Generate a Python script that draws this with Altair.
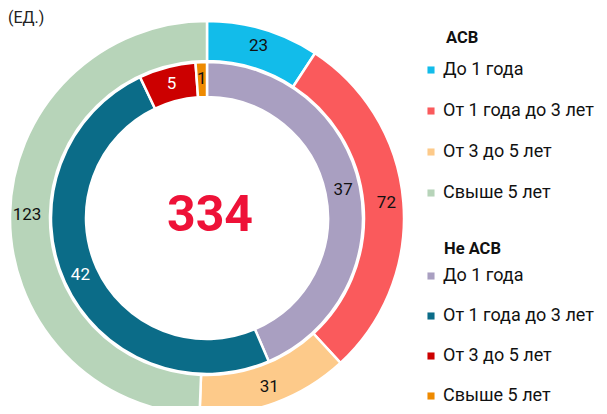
import altair as alt
import pandas as pd

categories = ["До 1 года", "От 1 года до 3 лет", "От 3 до 5 лет", "Свыше 5 лет"]
asv_values = [23, 72, 31, 123]
non_asv_values = [37, 42, 5, 1]
asv_colors = ["#12BCEA", "#FA5A5C", "#FDCA8A", "#B7D4B9"]
non_asv_colors = ["#A99FC1", "#0B6C88", "#CC0000", "#EE8A00"]
unit_label = "(ЕД.)"
legend_titles = ["АСВ", "Не АСВ"]

outer_df = pd.DataFrame({"cat": categories, "value": asv_values, "idx": range(4)})
inner_df = pd.DataFrame({"cat": categories, "value": non_asv_values, "idx": range(4)})
total = sum(asv_values) + sum(non_asv_values)

FONT = "Roboto"
CX, CY = 199, 210
LEG_X = 414

def ring(df, colors, r_in, r_out, r_label, white_cats, legend_y, row_pad):
    base = alt.Chart(df).encode(
        theta=alt.Theta("value:Q", stack=True),
        order=alt.Order("idx:O"),
        x=alt.value(CX), y=alt.value(CY),
    )
    arc = base.mark_arc(innerRadius=r_in, outerRadius=r_out, stroke="white",
                        strokeWidth=2.5).encode(
        color=alt.Color("cat:N", scale=alt.Scale(domain=categories, range=colors),
                        legend=alt.Legend(title=None, orient="none",
                                          legendX=LEG_X, legendY=legend_y,
                                          symbolType="square", symbolSize=50,
                                          symbolStrokeWidth=0,
                                          labelFontSize=18, labelFont=FONT,
                                          labelColor="#111", labelLimit=300,
                                          labelOffset=3, rowPadding=row_pad)),
    )
    cond = " || ".join(f"datum.cat === '{c}'" for c in white_cats) or "false"
    txt = base.mark_text(radius=r_label, fontSize=17, font=FONT).encode(
        text=alt.Text("value:Q"),
        color=alt.condition(cond, alt.value("white"), alt.value("#111")),
    )
    return alt.layer(arc, txt)

outer = ring(outer_df, asv_colors, 157, 197, 180, [], 53, 23)
inner = ring(inner_df, non_asv_colors, 121, 156, 139,
             ["От 1 года до 3 лет", "От 3 до 5 лет"], 259, 22)

def label(text, x, y, **kw):
    return alt.Chart(pd.DataFrame({"t": [text]})).mark_text(font=FONT, **kw).encode(
        text="t:N", x=alt.value(x), y=alt.value(y))

center = label(str(total), CX + 3, CY - 2, fontSize=50, fontWeight="bold",
               color="#EE1238", baseline="middle")
unit = label(unit_label, 0, 10, fontSize=16, color="#222", align="left", baseline="middle")
t1 = label(legend_titles[0], LEG_X + 24, 30, fontSize=16.5, fontWeight="bold",
           color="#111", align="left", baseline="middle")
t2 = label(legend_titles[1], LEG_X + 22, 241, fontSize=16.5, fontWeight="bold",
           color="#111", align="left", baseline="middle")

chart = alt.layer(outer, inner, center, unit, t1, t2).resolve_scale(
    theta="independent", color="independent"
).properties(width=591, height=398, autosize=alt.AutoSizeParams(type="none"), padding=0
).configure_view(stroke=None)

chart.save("out.html", embed_options={"renderer": "svg", "actions": False})
